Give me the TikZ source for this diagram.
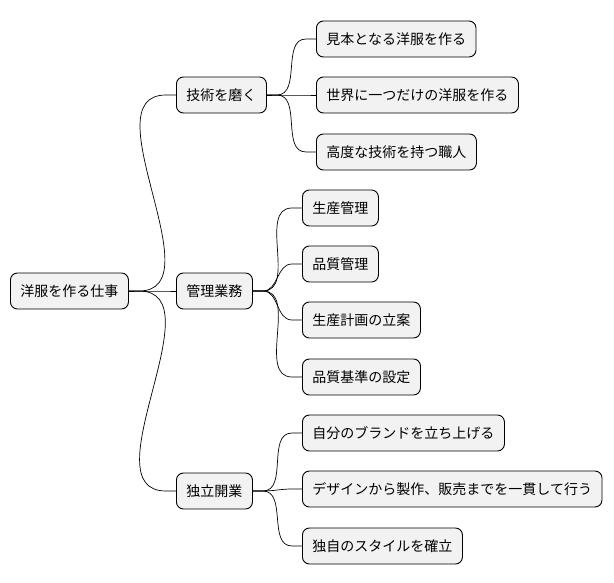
\documentclass[tikz,border=0pt]{standalone}
\usepackage{fontspec}
\setmainfont{Noto Sans CJK JP}
\begin{document}
\begin{tikzpicture}[x=1pt,y=-1pt,
  box/.style={draw=black,line width=0.9pt,fill=black!5,rounded corners=7pt,anchor=west,inner xsep=10pt,minimum height=36pt,font=\fontsize{14}{16}\selectfont},
  link/.style={draw=black,line width=0.7pt}]
\useasboundingbox (0,0) rectangle (614,583);
\node[box] (r) at (10,291) {洋服を作る仕事};
\node[box] (a) at (176,95) {技術を磨く};
\node[box] (b) at (176,291) {管理業務};
\node[box] (c) at (176,491) {独立開業};
\node[box] (a1) at (316,39) {見本となる洋服を作る};
\node[box] (a2) at (316,95) {世界に一つだけの洋服を作る};
\node[box] (a3) at (316,152) {高度な技術を持つ職人};
\node[box] (b1) at (302,208) {生産管理};
\node[box] (b2) at (302,264) {品質管理};
\node[box] (b3) at (302,320) {生産計画の立案};
\node[box] (b4) at (302,377) {品質基準の設定};
\node[box] (c1) at (302,433) {自分のブランドを立ち上げる};
\node[box] (c2) at (302,489) {デザインから製作、販売までを一貫して行う};
\node[box] (c3) at (302,546) {独自のスタイルを確立};
\foreach \p/\c in {r/a,r/b,r/c,a/a1,a/a2,a/a3,b/b1,b/b2,b/b3,b/b4,c/c1,c/c2,c/c3}{
  \draw[link] (\p.east) -- ++(10,0) to[out=0,in=180] ([xshift=-10pt]\c.west) -- (\c.west);
}
\end{tikzpicture}
\end{document}
